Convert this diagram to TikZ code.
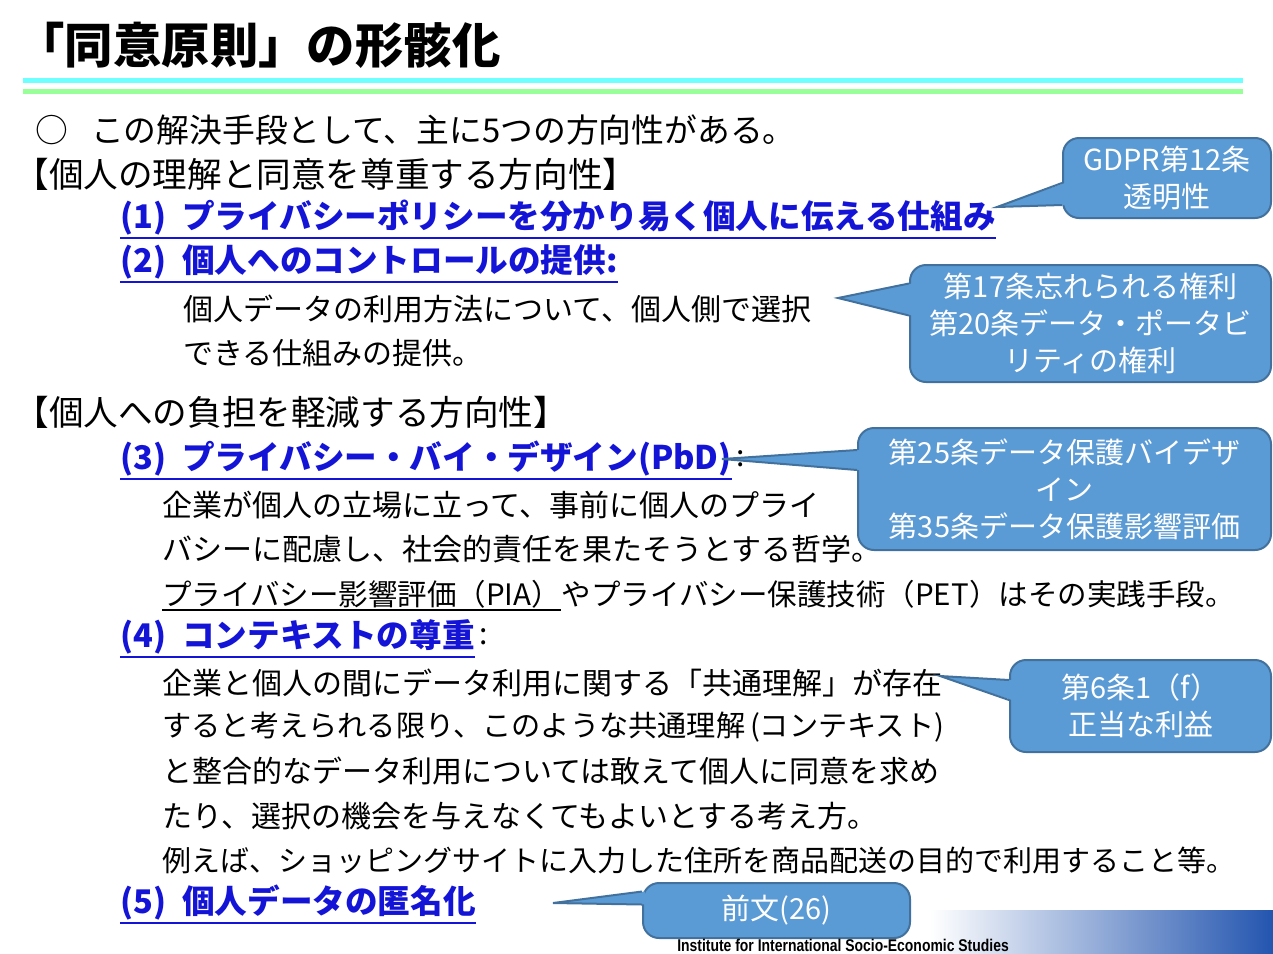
\documentclass[tikz,border=0pt]{standalone}
\usepackage{fontspec}
\setmainfont{Noto Sans CJK JP}
\newfontfamily\titlefont{Noto Sans CJK JP Black}
\newfontfamily\footfont{Liberation Sans}
\usetikzlibrary{calc}
\definecolor{linkblue}{RGB}{20,20,215}
\definecolor{callfill}{RGB}{91,155,213}
\definecolor{callline}{RGB}{65,113,156}
\definecolor{rulecyan}{RGB}{110,255,255}
\definecolor{rulegreen}{RGB}{153,255,153}
\definecolor{globeblue}{RGB}{35,85,175}
% pointer of a callout: box, tip, two offsets on its west side
\newcommand{\wedgeto}[4]{%
  \fill[callfill] ($(#1.west)+(3,#3)$) -- (#2) -- ($(#1.west)+(3,#4)$) -- cycle;
  \draw[callline,line width=1pt] ($(#1.west)+(0,#3)$) -- (#2) -- ($(#1.west)+(0,#4)$);
}

\begin{document}
\begin{tikzpicture}[x=0.5pt,y=-0.5pt,
  txt/.style={anchor=west,inner sep=0pt,font=\fontsize{15}{16}\selectfont},
  head/.style={txt,font=\fontsize{17.3}{18}\selectfont},
  item/.style={txt,text=linkblue,font=\bfseries\fontsize{16.3}{18}\selectfont},
  callbox/.style={fill=callfill,draw=callline,line width=1pt,rounded corners=8pt,
    text=white,align=center,inner sep=0pt,font=\fontsize{14.5}{18.5}\selectfont},
  uline/.style={line width=1pt}]
\useasboundingbox (0,0) rectangle (1273,953);

% title and rules
\node[txt,font=\titlefont\fontsize{24.2}{26}\selectfont] (title) at (16,45) {「同意原則」の形骸化};
\draw[rulecyan,line width=2.5pt] (23,80.5) -- (1243,80.5);
\draw[rulegreen,line width=2.5pt] (23,91) -- (1243,91);

% first group
\node[txt,font=\fontsize{16.4}{18}\selectfont] (intro) at (35,130) {○\hspace{11.5pt}この解決手段として、主に5つの方向性がある。};
\node[head] (grp1) at (14,174) {【個人の理解と同意を尊重する方向性】};
\node[item] (p1) at (120,218) {(1)\hspace{8pt}プライバシーポリシーを分かり易く個人に伝える仕組み};
\node[item] (p2) at (120,262) {(2)\hspace{8pt}個人へのコントロールの提供:};
\node[txt] (t21) at (183,309) {個人データの利用方法について、個人側で選択};
\node[txt] (t22) at (183,353) {できる仕組みの提供。};

% second group
\node[head] (grp2) at (14,412) {【個人への負担を軽減する方向性】};
\node[item] (p3) at (120,459) {(3)\hspace{8pt}プライバシー・バイ・デザイン(PbD)};
\node[txt,anchor=west] (p3c) at ($(p3.east)+(4,0)$) {:};
\node[txt] (t31) at (162,505) {企業が個人の立場に立って、事前に個人のプライ};
\node[txt] (t32) at (162,549) {バシーに配慮し、社会的責任を果たそうとする哲学。};
\node[txt,font=\fontsize{14.75}{16}\selectfont] (pia) at (162,594) {プライバシー影響評価（PIA）};
\node[txt,font=\fontsize{14.75}{16}\selectfont,anchor=west] (t33) at (pia.east) {やプライバシー保護技術（PET）はその実践手段。};
\node[item] (p4) at (120,637) {(4)\hspace{8pt}コンテキストの尊重};
\node[txt,anchor=west] (p4c) at ($(p4.east)+(4,0)$) {:};
\node[txt] (t41) at (162,683) {企業と個人の間にデータ利用に関する「共通理解」が存在};
\node[txt,font=\fontsize{14.6}{16}\selectfont] (t42) at (162,727) {すると考えられる限り、このような共通理解\,(コンテキスト)};
\node[txt] (t43) at (162,771) {と整合的なデータ利用については敢えて個人に同意を求め};
\node[txt] (t44) at (162,816) {たり、選択の機会を与えなくてもよいとする考え方。};
\node[txt,font=\fontsize{14.5}{16}\selectfont] (t45) at (162,860) {例えば、ショッピングサイトに入力した住所を商品配送の目的で利用すること等。};
\node[item] (p5) at (120,903) {(5)\hspace{8pt}個人データの匿名化};

% underlines
\draw[linkblue,uline] ($(p1.south west)+(0,2)$) -- ($(p1.south east)+(0,2)$);
\draw[linkblue,uline] ($(p2.south west)+(0,2)$) -- ($(p2.south east)+(0,2)$);
\draw[linkblue,uline] ($(p3.south west)+(0,2)$) -- ($(p3.south east)+(0,2)$);
\draw[linkblue,uline] ($(p4.south west)+(0,2)$) -- ($(p4.south east)+(0,2)$);
\draw[linkblue,uline] ($(p5.south west)+(0,2)$) -- ($(p5.south east)+(0,2)$);
\draw[uline] ($(pia.south west)+(0,2)$) -- ($(pia.south east)+(0,2)$);

% footer band
\shade[left color=white,right color=globeblue] (930,910) rectangle (1273,953);

% callouts
\node[callbox,minimum width=104pt,minimum height=40pt] (art12) at (1167,178)
  {GDPR第12条\\透明性};
\node[callbox,minimum width=180.5pt,minimum height=58.5pt] (art17) at (1090.5,323.5)
  {第17条忘れられる権利\\第20条データ・ポータビ\\リティの権利};
\node[callbox,minimum width=206.5pt,minimum height=61pt] (art25) at (1064.5,489)
  {第25条データ保護バイデザ\\イン\\第35条データ保護影響評価};
\node[callbox,minimum width=130.5pt,minimum height=46pt] (art6) at (1140.5,706)
  {第6条1（f）\\正当な利益};
\node[callbox,minimum width=133.5pt,minimum height=27.5pt] (recit) at (776.5,910.5)
  {前文(26)};

\coordinate (tip12) at (997,207);
\coordinate (tip17) at (838,298);
\coordinate (tip25) at (722,459);
\coordinate (tip6) at (940,676);
\coordinate (tip26) at (553,903);
\wedgeto{art12}{tip12}{5}{27}
\wedgeto{art17}{tip17}{-40}{-8}
\wedgeto{art25}{tip25}{-39}{-19}
\wedgeto{art6}{tip6}{-26}{-6}
\wedgeto{recit}{tip26}{-19}{-6}

\node[inner sep=0pt,font=\footfont\bfseries\fontsize{8.5}{9}\selectfont] (inst) at (843,945)
  {\scalebox{0.82}[1]{Institute for International Socio-Economic Studies}};
\end{tikzpicture}
\end{document}
